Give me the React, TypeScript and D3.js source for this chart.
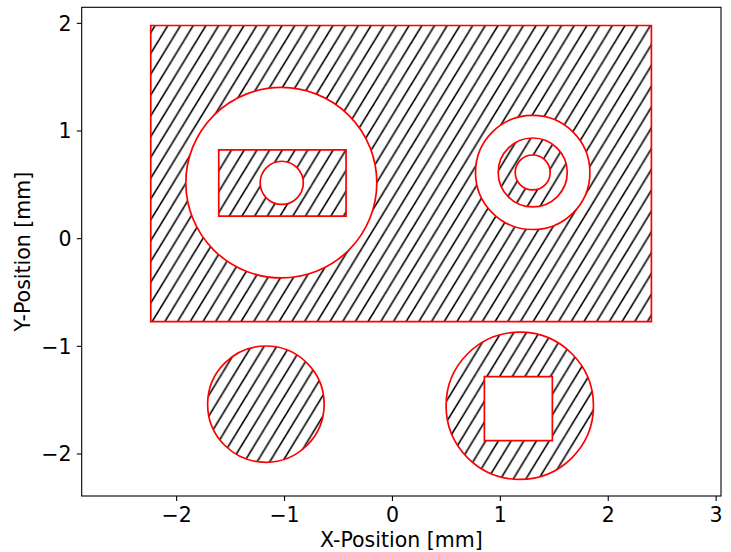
import React from "react";
import * as d3 from "d3";

// ---- data (mm) ----
const xTicks = [-2, -1, 0, 1, 2, 3];
const yTicks = [-2, -1, 0, 1, 2];
const xDomain = [-2.88, 3.045];
const yDomain = [-2.39, 2.149];

// rectangles: [x0, y0, x1, y1]
const plateRect = [-2.24, -0.77, 2.4, 1.98];
const pocketRect = [-1.61, 0.21, -0.43, 0.824];
const squareHole = [0.852, -1.876, 1.482, -1.281];

// circles: [cx, cy, r]
const bigHole = [-1.03, 0.52, 0.885];
const ringOuter = [1.3, 0.615, 0.53];
const ringMiddle = [1.3, 0.615, 0.32];
const ringInner = [1.3, 0.615, 0.162];
const pocketHole = [-1.026, 0.519, 0.2];
const leftDisk = [-1.173, -1.537, 0.54];
const rightDisk = [1.18, -1.552, 0.683];

const W = 731;
const H = 552;
const FONT = "DejaVu Sans, sans-serif";

export default function App() {
  const x = d3.scaleLinear().domain(xDomain).range([81.7, 721]);
  const y = d3.scaleLinear().domain(yDomain).range([496, 7.3]);

  const rectPath = (r: number[]) => {
    const p = d3.path();
    p.moveTo(x(r[0]), y(r[1]));
    p.lineTo(x(r[2]), y(r[1]));
    p.lineTo(x(r[2]), y(r[3]));
    p.lineTo(x(r[0]), y(r[3]));
    p.closePath();
    return p.toString();
  };
  const circlePath = (c: number[]) => {
    const cx = x(c[0]);
    const cy = y(c[1]);
    const rx = x(c[0] + c[2]) - cx;
    const ry = cy - y(c[1] + c[2]);
    return `M${cx + rx},${cy}A${rx},${ry} 0 1 0 ${cx - rx},${cy}A${rx},${ry} 0 1 0 ${cx + rx},${cy}Z`;
  };

  const shapes = [
    rectPath(plateRect) + circlePath(bigHole) + circlePath(ringOuter),
    rectPath(pocketRect) + circlePath(pocketHole),
    circlePath(ringMiddle) + circlePath(ringInner),
    circlePath(leftDisk),
    circlePath(rightDisk) + rectPath(squareHole),
  ];

  const hw = 12.7;
  const hh = 20.8;
  const [x0, x1] = x.range();
  const [yb, yt] = y.range();

  return (
    <svg
      width={W}
      height={H}
      style={{ position: "absolute", left: 0, top: 0 }}
      fontFamily={FONT}
    >
      <defs>
        <pattern
          id="hatch"
          patternUnits="userSpaceOnUse"
          x={5.6}
          y={0}
          width={hw}
          height={hh}
        >
          {[0, 1, 2].map((k) => (
            <line
              key={k}
              x1={(k - 1.5) * hw}
              y1={1.5 * hh}
              x2={(k + 0.5) * hw}
              y2={-0.5 * hh}
              stroke="#000"
              strokeWidth={1.6}
            />
          ))}
        </pattern>
      </defs>
      <rect x={0} y={0} width={W} height={H} fill="#fff" />
      {shapes.map((d, i) => (
        <path
          key={i}
          d={d}
          fill="url(#hatch)"
          fillRule="evenodd"
          stroke="#ff0000"
          strokeWidth={1.7}
        />
      ))}
      <rect
        x={x0}
        y={yt}
        width={x1 - x0}
        height={yb - yt}
        fill="none"
        stroke="#000"
        strokeWidth={1.1}
      />
      {xTicks.map((t) => (
        <g key={"x" + t}>
          <line x1={x(t)} x2={x(t)} y1={yb} y2={yb + 4.9} stroke="#000" strokeWidth={1.1} />
          <text x={x(t)} y={521.5} textAnchor="middle" fontSize={20.5} fill="#000">
            {t < 0 ? "\u2212" + Math.abs(t) : String(t)}
          </text>
        </g>
      ))}
      {yTicks.map((t) => (
        <g key={"y" + t}>
          <line x1={x0 - 4.9} x2={x0} y1={y(t)} y2={y(t)} stroke="#000" strokeWidth={1.1} />
          <text x={71.5} y={y(t) + 7.4} textAnchor="end" fontSize={20.5} fill="#000">
            {t < 0 ? "\u2212" + Math.abs(t) : String(t)}
          </text>
        </g>
      ))}
      <text x={(x0 + x1) / 2} y={547} textAnchor="middle" fontSize={20.5} fill="#000">
        X-Position [mm]
      </text>
      <text
        transform={`translate(30,${(yb + yt) / 2}) rotate(-90)`}
        textAnchor="middle"
        fontSize={20.5}
        fill="#000"
      >
        Y-Position [mm]
      </text>
    </svg>
  );
}
